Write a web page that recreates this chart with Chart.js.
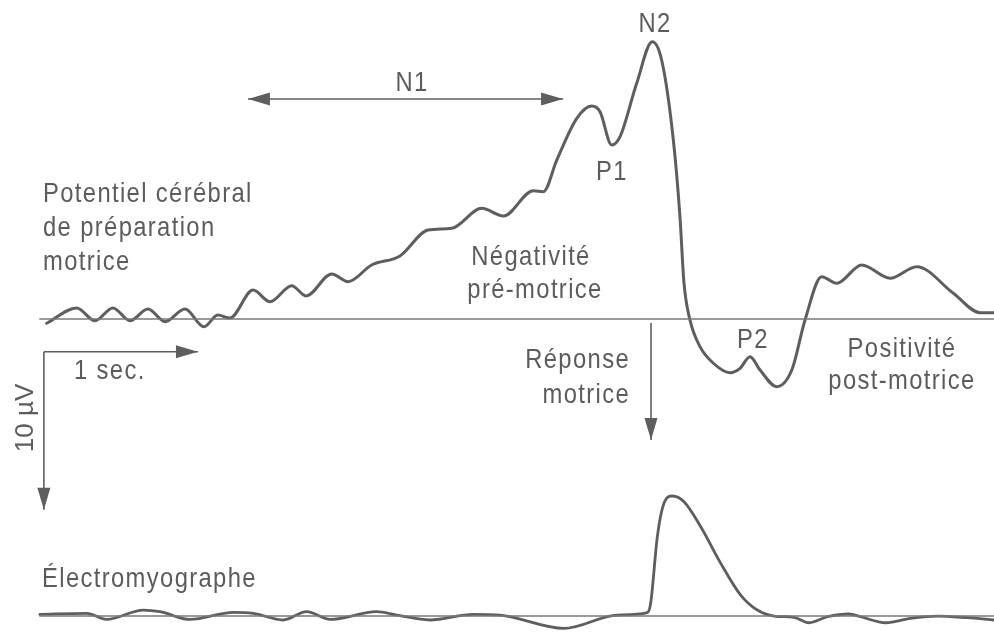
<!DOCTYPE html>
<html lang="fr">
<head>
<meta charset="utf-8">
<title>Potentiel de préparation motrice</title>
<script src="https://cdn.jsdelivr.net/npm/chart.js@4.4.4/dist/chart.umd.min.js"></script>
<style>
  html, body { margin: 0; padding: 0; background: #fff; }
  #wrap { width: 994px; height: 632px; }
</style>
</head>
<body>
<div id="wrap"><canvas id="chart" width="994" height="632"></canvas></div>
<script>
// EEG trace: time (s, 0 = motor response) and potential (µV, negative = up)
const eegTime = [-3.924, -3.729, -3.610, -3.494, -3.383, -3.266, -3.156, -3.026, -2.903, -2.812,
  -2.734, -2.584, -2.474, -2.333, -2.240, -2.073, -1.968, -1.814, -1.630, -1.448,
  -1.294, -1.099, -0.959, -0.764, -0.699, -0.612, -0.482, -0.385, -0.331, -0.255,
  -0.201, -0.093, 0.008, 0.069, 0.145, 0.188, 0.214, 0.253, 0.318, 0.405,
  0.513, 0.578, 0.643, 0.708, 0.816, 0.914, 1.000, 1.108, 1.206, 1.368,
  1.552, 1.725, 1.963, 2.136, 2.227];
const eegVolt = [0.27, -0.70, 0.11, -0.70, 0.11, -0.63, 0.17, -0.63, 0.49, -0.25,
  -0.06, -1.84, -1.09, -2.11, -1.46, -2.85, -2.36, -3.42, -3.99, -5.63,
  -5.74, -7.01, -6.52, -8.12, -8.06, -10.06, -12.70, -13.48, -13.12, -11.01,
  -11.54, -14.92, -17.55, -16.39, -11.33, -6.47, -2.28, 0.06, 1.75, 2.80,
  3.40, 3.12, 2.39, 3.23, 4.28, 3.23, 0.06, -2.68, -2.26, -3.42,
  -2.58, -3.31, -1.63, -0.40, -0.40];

// EMG trace: time (s) and relative amplitude (peak = 1)
const emgTime = [-3.968, -3.664, -3.535, -3.297, -3.188, -2.994, -2.712, -2.582, -2.388, -2.236,
  -2.084, -1.781, -1.651, -1.435, -1.154, -0.981, -0.565, -0.219, -0.024, -0.002,
  0.041, 0.084, 0.138, 0.214, 0.323, 0.453, 0.582, 0.690, 0.799, 0.929,
  1.026, 1.145, 1.286, 1.362, 1.524, 1.686, 1.859, 2.054, 2.227];
const emgAmp = [0.014, 0.023, -0.028, 0.050, 0.036, -0.028, 0.031, 0.023, -0.033, 0.036,
  -0.028, 0.036, 0.008, -0.033, 0.014, 0.008, -0.103, 0.008, 0.028, 0.108,
  0.661, 0.939, 1.000, 0.953, 0.744, 0.439, 0.175, 0.050, 0.000, -0.011,
  -0.056, -0.006, 0.017, -0.006, -0.056, -0.019, 0.000, -0.014, -0.033];

// baselines span
const baseTime = [-3.968, 2.227];

// landmarks
const responseTime = 0;
const n1Span = [-2.617, -0.571];
const n1Level = -13.92;
const scaleBarOrigin = [-3.942, 2.07];
const scaleBarSec = 1;
const scaleBarMicroV = 10;

const INK = '#5e5e5e';
const TEXT = '#5c5c5c';
const FONT = '"Liberation Sans", Arial, Helvetica, sans-serif';

const toPoints = (xs, ys) => xs.map((x, i) => ({ x, y: ys[i] }));

function head(ctx, x, y, ang) {
  const len = 22, half = 6.5;
  const c = Math.cos(ang), s = Math.sin(ang);
  ctx.beginPath();
  ctx.moveTo(x, y);
  ctx.lineTo(x - len * c + half * s, y - len * s - half * c);
  ctx.lineTo(x - len * c - half * s, y - len * s + half * c);
  ctx.closePath();
  ctx.fill();
}

function arrow(ctx, x1, y1, x2, y2, both) {
  const ang = Math.atan2(y2 - y1, x2 - x1);
  ctx.beginPath();
  ctx.moveTo(x1, y1);
  ctx.lineTo(x2, y2);
  ctx.stroke();
  head(ctx, x2, y2, ang);
  if (both) head(ctx, x1, y1, ang + Math.PI);
}

// condensed look: narrow the face and open the spacing a little
function label(ctx, str, x, y, align) {
  ctx.save();
  ctx.translate(x, y);
  ctx.scale(0.85, 1);
  ctx.letterSpacing = '1.6px';
  ctx.textAlign = align || 'center';
  ctx.fillText(str, 0, 0);
  ctx.restore();
}

const annotations = {
  id: 'annotations',
  afterDatasetsDraw(chart) {
    const { ctx, scales } = chart;
    const x = scales.x, y = scales.y;
    ctx.save();
    ctx.strokeStyle = INK;
    ctx.fillStyle = INK;
    ctx.lineWidth = 1.6;

    // N1 double arrow
    arrow(ctx, x.getPixelForValue(n1Span[0]), y.getPixelForValue(n1Level),
      x.getPixelForValue(n1Span[1]), y.getPixelForValue(n1Level), true);

    // motor response arrow
    const rx = x.getPixelForValue(responseTime);
    arrow(ctx, rx, y.getPixelForValue(0.25), rx, y.getPixelForValue(7.66));

    // calibration bars
    const ox = x.getPixelForValue(scaleBarOrigin[0]);
    const oy = y.getPixelForValue(scaleBarOrigin[1]);
    arrow(ctx, ox, oy, x.getPixelForValue(scaleBarOrigin[0] + scaleBarSec), oy);
    arrow(ctx, ox, oy, ox, y.getPixelForValue(scaleBarOrigin[1] + scaleBarMicroV));

    // texts
    ctx.fillStyle = TEXT;
    ctx.textBaseline = 'alphabetic';
    ctx.font = '28px ' + FONT;
    label(ctx, 'N1', 412, 91);
    label(ctx, 'N2', 655, 32);
    label(ctx, 'P1', 612, 180);
    label(ctx, 'P2', 753, 348);
    label(ctx, 'Potentiel cérébral', 43, 202, 'left');
    label(ctx, 'de préparation', 43, 236, 'left');
    label(ctx, 'motrice', 43, 270, 'left');
    label(ctx, 'Négativité', 531, 265);
    label(ctx, 'pré-motrice', 535, 298);
    label(ctx, 'Réponse', 630, 368, 'right');
    label(ctx, 'motrice', 630, 403, 'right');
    label(ctx, 'Positivité', 902, 357);
    label(ctx, 'post-motrice', 902, 389);
    label(ctx, '1 sec.', 74, 379, 'left');
    label(ctx, 'Électromyographe', 42, 587, 'left');

    ctx.save();
    ctx.translate(33, 418);
    ctx.rotate(-Math.PI / 2);
    ctx.font = '26px ' + FONT;
    ctx.textAlign = 'center';
    ctx.fillText('10 µV', 0, 0);
    ctx.restore();

    ctx.restore();
  }
};

new Chart(document.getElementById('chart'), {
  type: 'line',
  data: {
    datasets: [
      {
        label: 'Ligne de base EEG',
        data: toPoints(baseTime, [0, 0]),
        yAxisID: 'y',
        borderColor: '#7a7a7a',
        borderWidth: 1.6
      },
      {
        label: 'Ligne de base EMG',
        data: toPoints(baseTime, [0, 0]),
        yAxisID: 'yEmg',
        borderColor: '#7a7a7a',
        borderWidth: 1.6
      },
      {
        label: 'Potentiel cérébral',
        data: toPoints(eegTime, eegVolt),
        yAxisID: 'y',
        borderColor: INK,
        borderWidth: 3,
        cubicInterpolationMode: 'monotone'
      },
      {
        label: 'Électromyographe',
        data: toPoints(emgTime, emgAmp),
        yAxisID: 'yEmg',
        borderColor: INK,
        borderWidth: 2.8,
        cubicInterpolationMode: 'monotone'
      }
    ]
  },
  options: {
    responsive: false,
    animation: false,
    events: [],
    layout: { padding: 0 },
    elements: {
      point: { radius: 0 },
      line: { borderCapStyle: 'round', borderJoinStyle: 'round', fill: false }
    },
    scales: {
      x: { type: 'linear', min: -4.227, max: 2.227, display: false },
      y: { type: 'linear', min: -20.19, max: 19.81, reverse: true, display: false },
      yEmg: { type: 'linear', min: -0.133, max: 5.133, display: false }
    },
    plugins: {
      legend: { display: false },
      tooltip: { enabled: false }
    }
  },
  plugins: [annotations]
});
</script>
</body>
</html>
